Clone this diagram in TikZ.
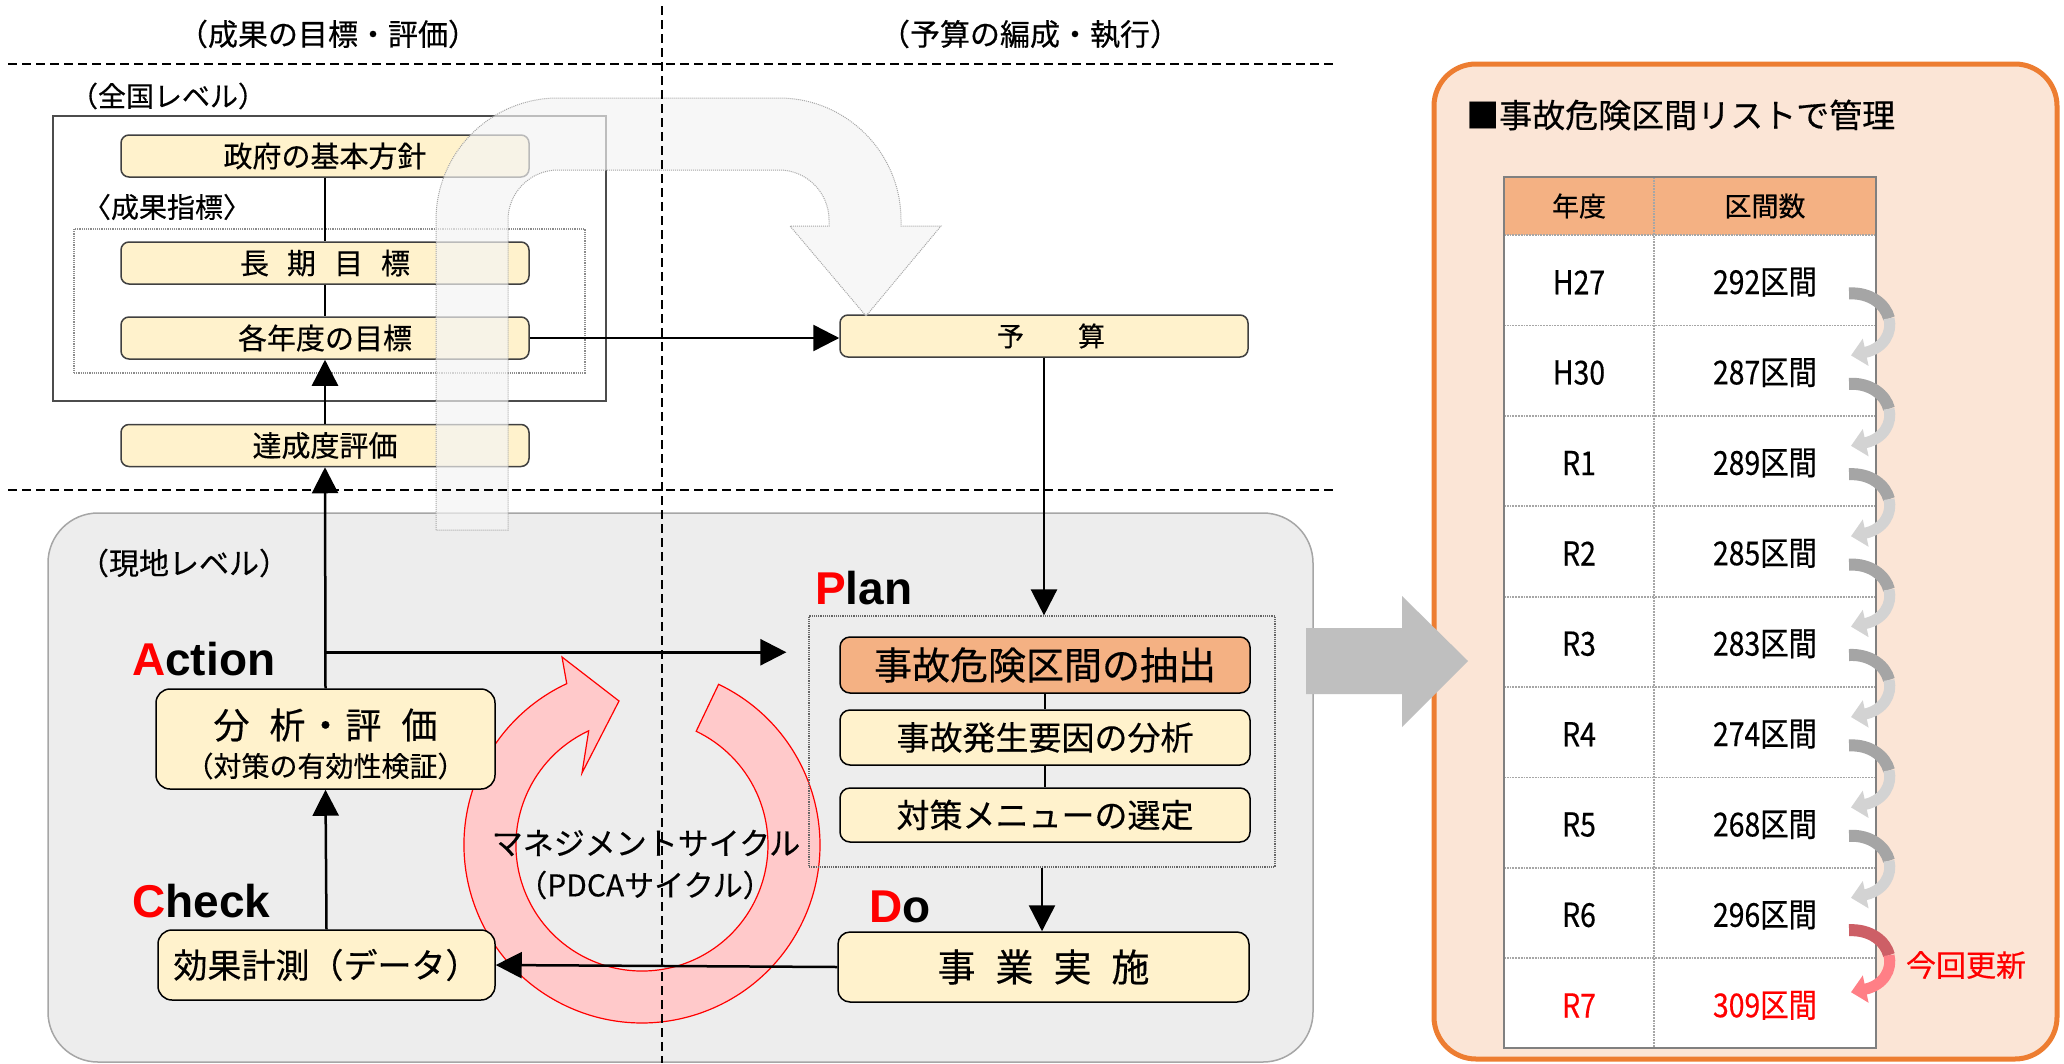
\documentclass[tikz,border=0pt]{standalone}
\usepackage{fontspec}
\setmainfont{Noto Sans CJK JP}[FakeBold=0.4]
\newfontfamily\jpc{Noto Sans CJK JP}[FakeStretch=0.86,FakeBold=0.4]
\newfontfamily\lat{Liberation Sans}
\usetikzlibrary{arrows.meta,calc}
\newcommand\fsz[1]{\fontsize{#1pt}{#1pt}\selectfont}
\definecolor{boxfill}{HTML}{FFF2CC}
\definecolor{orangefill}{HTML}{F4B183}
\definecolor{panelgray}{HTML}{EDEDED}
\definecolor{panelline}{HTML}{A6A6A6}
\definecolor{rpfill}{HTML}{FBE5D6}
\definecolor{rpline}{HTML}{ED7D31}
\definecolor{ringfill}{HTML}{FFC9CA}
\definecolor{arrowgray}{HTML}{BFBFBF}
\definecolor{uarrow}{HTML}{F4F4F4}
\definecolor{tabline}{HTML}{808080}
\definecolor{gdark}{HTML}{A5A5A5}
\definecolor{glight}{HTML}{D3D3D3}
\definecolor{rdark}{HTML}{CD5F66}
\definecolor{rlight}{HTML}{FF7F86}
\begin{document}
\begin{tikzpicture}[x=1pt,y=-1pt,
  ubox/.style={draw=black!75, line width=1.5pt, fill=boxfill, rounded corners=8pt, inner sep=0pt, minimum width=408pt, minimum height=42pt, font=\fsz{29}},
  lbox/.style={draw=black, line width=1.5pt, fill=boxfill, rounded corners=14pt, inner sep=0pt},
  pbox/.style={draw=black, line width=1.5pt, fill=boxfill, rounded corners=10pt, inner sep=0pt, minimum width=410pt, font=\fsz{33}},
  conn/.style={line width=2.5pt},
  arr/.style={line width=2.5pt, -{Triangle[width=26pt,length=26pt]}},
  dline/.style={line width=2pt, dash pattern=on 9pt off 5pt},
  pdca/.style={font=\lat\bfseries\fsz{46}, anchor=base west, inner sep=0pt},
  lbl/.style={inner sep=0pt},
  tabtxt/.style={font=\jpc\fsz{33}, inner sep=0pt}
]
\useasboundingbox (0,0) rectangle (2064,1063);
\fill[white] (0,0) rectangle (2064,1063);

% ---------- right panel ----------
\draw[rpline, line width=5pt, fill=rpfill, rounded corners=42pt] (1434,64) rectangle (2057,1059);
\node[anchor=west, font=\fsz{33}, inner sep=0pt] (rtitle) at (1466,115) {■事故危険区間リストで管理};

% table
\fill[white] (1504,177) rectangle (1876,1048);
\fill[orangefill] (1504,177) rectangle (1876,235);
\foreach \k in {0,...,8}{
  \draw[gray!70, densely dotted, line width=1.8pt] (1504,{235+90.4*\k}) -- (1876,{235+90.4*\k});
}
\draw[gray!70, densely dotted, line width=1.8pt] (1654,177) -- (1654,1048);
\draw[tabline, line width=2.5pt] (1504,177) rectangle (1876,1048);
\node[font=\fsz{27}, inner sep=0pt] (hyear) at (1579,206) {年度};
\node[font=\fsz{27}, inner sep=0pt] (hcount) at (1765,206) {区間数};
\foreach \y/\c [count=\i from 0] in {H27/292,H30/287,R1/289,R2/285,R3/283,R4/274,R5/268,R6/296}{
  \node[tabtxt] (yr\i) at (1579,{237+90.4*(\i+0.5)}) {\y};
  \node[tabtxt] (ct\i) at (1765,{237+90.4*(\i+0.5)}) {\c 区間};
}
\node[tabtxt, text=red] (yr8) at (1579,{237+90.4*8.5}) {R7};
\node[tabtxt, text=red] (ct8) at (1765,{237+90.4*8.5}) {309区間};

% curved arrows
\foreach \i in {0,...,7}{
  \pgfmathsetmacro\yb{235+90.4*(\i+1)}
  \ifnum\i=7 \def\ca{rdark}\def\cb{rlight}\def\sh{4}\else\def\ca{gdark}\def\cb{glight}\def\sh{0}\fi
  \coordinate (cs\i) at (1849,{\yb-32+\sh});
  \coordinate (cm\i) at (1889,{\yb-7+\sh});
  \coordinate (ce\i) at (1851,{\yb+30+\sh});
  \draw[line width=12pt, \ca] (cs\i) .. controls (1870.5,{\yb-33+\sh}) and (1885.5,{\yb-21+\sh}) .. (cm\i);
  \draw[line width=11pt, \cb, -{Triangle[width=27pt,length=15pt]}] (cm\i) .. controls (1892.5,{\yb+7+\sh}) and (1884,{\yb+23+\sh}) .. (ce\i);
}
\node[font=\fsz{30}, text=red, inner sep=0pt] (konkai) at (1966,965) {今回更新};

% ---------- left gray panel ----------
\draw[panelline, line width=1.5pt, fill=panelgray, rounded corners=50pt] (48,513) rectangle (1313,1062);

% ring
\filldraw[fill=ringfill, draw=red, line width=1.2pt]
  (718.6,684.3) arc[start angle=-64.5, end angle=245, radius=178]
  -- (562,657) -- (619,701) -- (582,773) -- (588.7,730.8)
  arc[start angle=245, end angle=-64.5, radius=126] -- cycle;

% ---------- national level ----------
\node[draw=black!70, line width=1.5pt, minimum width=553pt, minimum height=285pt, inner sep=0pt] (zenkoku) at (329.5,258.5) {};
\node[draw=black!45, densely dotted, line width=1.2pt, minimum width=511pt, minimum height=144pt, inner sep=0pt] (shihyo) at (329.5,301) {};
\node[font=\fsz{28}, lbl] (zlabel) at (168,96) {（全国レベル）};
\node[font=\fsz{28}, lbl] (slabel) at (167,207) {〈成果指標〉};

\node[ubox] (seifu) at (325,156) {政府の基本方針};
\node[ubox] (choki) at (325,263) {長\hspace{18pt}期\hspace{18pt}目\hspace{18pt}標};
\node[ubox] (kaku) at (325,338) {各年度の目標};
\node[ubox] (tassei) at (325,445.5) {達成度評価};
\node[ubox, font=\fsz{27}] (yosan) at (1044,336) {\hspace{14pt}予　　算};

% ---------- local level ----------
\node[font=\fsz{30}, lbl] (glabel) at (184,563) {（現地レベル）};

\node[lbox, minimum width=339pt, minimum height=100pt] (bunseki) at (325.5,739) {};
\node[font=\fsz{36}, lbl] (bunseki1) at (325.5,725) {分\hspace{20pt}析\hspace{2pt}・\hspace{2pt}評\hspace{20pt}価};
\node[font=\fsz{28}, lbl] (bunseki2) at (325.5,766) {（対策の有効性検証）};
\node[lbox, minimum width=337pt, minimum height=70pt, font=\fsz{34}] (koka) at (326.5,965) {効果計測（データ）};

\node[draw=black!60, densely dotted, line width=1.2pt, minimum width=466pt, minimum height=251pt, inner sep=0pt] (planrect) at (1042,741.5) {};
\node[pbox, fill=orangefill, minimum height=56pt, font=\fsz{38}] (p1) at (1045,665) {事故危険区間の抽出};
\node[pbox, minimum height=55pt] (p2) at (1045,737.5) {事故発生要因の分析};
\node[pbox, minimum height=54pt] (p3) at (1045,815) {対策メニューの選定};
\node[lbox, rounded corners=12pt, minimum width=411pt, minimum height=70pt, font=\fsz{38}] (jigyo) at (1043.5,967) {事\hspace{20pt}業\hspace{20pt}実\hspace{20pt}施};

\node[pdca] (lAction) at (132,675) {\textcolor{red}{A}ction};
\node[pdca] (lCheck) at (132,917) {\textcolor{red}{C}heck};
\node[pdca] (lPlan) at (815,604) {\textcolor{red}{P}lan};
\node[pdca] (lDo) at (869,922) {\textcolor{red}{D}o};

% ---------- connectors ----------
\draw[conn, line width=2pt] (seifu.south) -- (choki.north);
\draw[conn, line width=2pt] (choki.south) -- (kaku.north);
\draw[arr] (tassei.north) -- (kaku.south);
\draw[arr] (bunseki.north) -- (tassei.south);
\coordinate (actj) at ($(bunseki.north)+(0,-36)$);
\draw[arr, shorten >=22pt] (actj) -- (actj -| planrect.west);
\draw[arr] (koka.north) -- (bunseki.south);
\draw[arr] (kaku.east) -- (kaku.east -| yosan.west);
\draw[arr] (yosan.south) -- (yosan.south |- planrect.north);
\draw[conn, line width=2pt] (p1.south) -- (p2.north);
\draw[conn, line width=2pt] (p2.south) -- (p3.north);
\draw[arr] (planrect.south) -- (planrect.south |- jigyo.north);
\draw[arr] (jigyo.west) -- (koka.east);

% ---------- big U arrow (translucent) ----------
\filldraw[fill=uarrow, fill opacity=0.68, draw=black!35, densely dotted, line width=1pt]
  (436,530) -- (436,220) arc[start angle=180, end angle=270, radius=122]
  -- (779,98) arc[start angle=270, end angle=360, radius=122]
  -- (901,226) -- (941,226) -- (866,316) -- (790,226) -- (829,226) -- (829,220)
  arc[start angle=0, end angle=-90, radius=50]
  -- (558,170) arc[start angle=270, end angle=180, radius=50]
  -- (508,530) -- cycle;

% ---------- gray block arrow to the list ----------
\fill[arrowgray] (1306,628) -- (1402,628) -- (1402,596) -- (1468,661) -- (1402,727) -- (1402,694) -- (1306,694) -- cycle;

% ---------- dashed separators ----------
\draw[dline] (8,64) -- (1336,64);
\draw[dline] (8,490) -- (1336,490);
\draw[dline] (662,6) -- (662,1063);

% ---------- titles ----------
\node[font=\fsz{30}, lbl] (t1) at (328,34) {（成果の目標・評価）};
\node[font=\fsz{30}, lbl] (t2) at (1030,34) {（予算の編成・執行）};

% ---------- cycle text ----------
\node[font=\fsz{31}, lbl] (mgmt) at (646,843) {マネジメントサイクル};
\node[font=\fsz{30}, lbl] (pdcatxt) at (645,885) {（PDCAサイクル）};
\end{tikzpicture}
\end{document}
